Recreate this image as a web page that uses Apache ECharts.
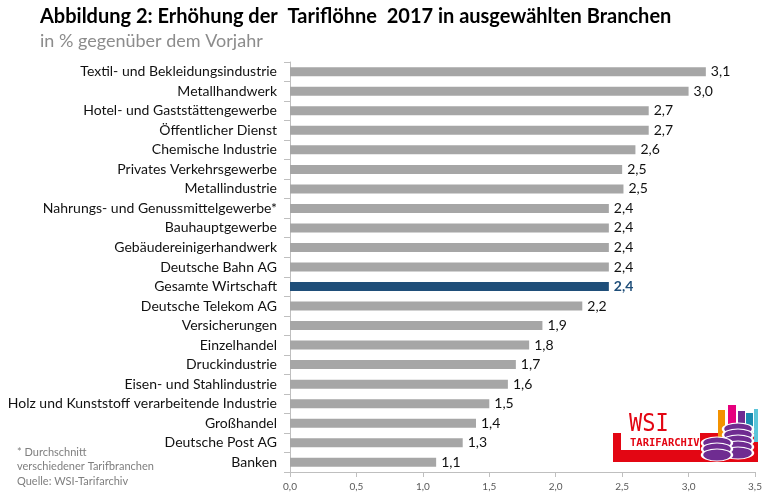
<!DOCTYPE html>
<html><head><meta charset="utf-8">
<script src="https://cdn.jsdelivr.net/npm/echarts@6/dist/echarts.min.js"></script>
<style>html,body{margin:0;padding:0;background:#fff}#c{width:778px;height:497px}</style>
</head><body><div id="c"></div>
<script>
const categories = ["Textil- und Bekleidungsindustrie","Metallhandwerk","Hotel- und Gaststättengewerbe","Öffentlicher Dienst","Chemische Industrie","Privates Verkehrsgewerbe","Metallindustrie","Nahrungs- und Genussmittelgewerbe*","Bauhauptgewerbe","Gebäudereinigerhandwerk","Deutsche Bahn AG","Gesamte Wirtschaft","Deutsche Telekom AG","Versicherungen","Einzelhandel","Druckindustrie","Eisen- und Stahlindustrie","Holz und Kunststoff verarbeitende Industrie","Großhandel","Deutsche Post AG","Banken"];
const values = [3.13,3.0,2.7,2.7,2.6,2.5,2.51,2.4,2.4,2.4,2.4,2.4,2.2,1.9,1.8,1.7,1.64,1.5,1.4,1.3,1.1];
const highlight = "Gesamte Wirtschaft";
const xTicks = [0,0.5,1,1.5,2,2.5,3,3.5];

const F = 'Lato, "Noto Sans", sans-serif';
const chart = echarts.init(document.getElementById('c'), null, {renderer:'canvas'});
const fmt = v => v.toFixed(1).replace('.', ',');
chart.setOption({
  animation:false,
  title:[{
    text:'Abbildung 2: Erhöhung der  Tariflöhne  2017 in ausgewählten Branchen',
    left:40, top:7, padding:0,
    textStyle:{fontFamily:F,fontSize:20,fontWeight:'bold',color:'#000'}
  },{
    text:'in % gegenüber dem Vorjahr',
    left:40, top:32, padding:0,
    textStyle:{fontFamily:F,fontSize:18,fontWeight:'normal',color:'#8c8c8c'}
  }],
  grid:{left:290,right:23,top:62,bottom:25,containLabel:false},
  xAxis:{type:'value',min:xTicks[0],max:xTicks[xTicks.length-1],interval:0.5,
    axisLine:{show:true,lineStyle:{color:'#bfbfbf'}},
    axisTick:{show:true,length:5,lineStyle:{color:'#bfbfbf'}},
    splitLine:{show:false},
    axisLabel:{fontFamily:F,fontSize:10,color:'#595959',margin:10,formatter:v=>fmt(v)}
  },
  yAxis:{type:'category',data:categories,inverse:true,
    axisLine:{show:true,lineStyle:{color:'#bfbfbf'}},
    axisTick:{show:true,length:6,lineStyle:{color:'#bfbfbf'}},
    axisLabel:{fontFamily:F,fontSize:14,color:'#111',margin:13}
  },
  series:[{type:'bar',barWidth:9,
    data:values.map((v,i)=>({value:v,
      itemStyle:{color: categories[i]===highlight ? '#1f4e79' : '#a6a6a6'},
      label: categories[i]===highlight ? {color:'#1f4e79',fontWeight:'bold'} : undefined})),
    label:{show:true,position:'right',distance:5,fontFamily:F,fontSize:14,color:'#111',
      formatter:p=>fmt(p.value)}
  }],
  graphic:[
    {type:'text',left:17,top:445,style:{text:'* Durchschnitt\nverschiedener Tarifbranchen\nQuelle: WSI-Tarifarchiv',fontFamily:F,fontSize:11,lineHeight:14.5,fill:'#7f7f7f'}},
    {type:'group',children:[
      {type:'rect',shape:{x:613,y:433,width:8,height:29},style:{fill:'#e30613'}},
      {type:'rect',shape:{x:613,y:450,width:145,height:12},style:{fill:'#e30613'}},
      {type:'rect',shape:{x:700,y:433,width:58,height:29},style:{fill:'#e30613'}},
      {type:'text',x:629,y:413,scaleY:1.1,style:{text:'WSI',fontFamily:'"DejaVu Sans Mono", monospace',fontSize:22,fill:'#e30613'}},
      {type:'text',x:630,y:438,style:{text:'TARIFARCHIV',fontFamily:'"DejaVu Sans Mono", monospace',fontSize:10.5,fontWeight:'bold',fill:'#e30613'}},
      {type:'rect',shape:{x:718,y:410,width:7,height:32},style:{fill:'#f39200'}},
      {type:'rect',shape:{x:728,y:405,width:8,height:37},style:{fill:'#e6007e'}},
      {type:'rect',shape:{x:738,y:411,width:7,height:31},style:{fill:'#6f2c91'}},
      {type:'rect',shape:{x:746,y:413,width:7,height:29},style:{fill:'#1a8bb0'}},
      {type:'rect',shape:{x:754,y:409,width:4,height:33},style:{fill:'#5bc5d9'}},
      ...[429,435,441,447,453].map(y=>({type:'circle',x:738,y:y,scaleY:0.4,shape:{cx:0,cy:0,r:15},style:{fill:'#6f2c91',stroke:'#fff',lineWidth:2.5}})),
      ...[443,449,455].map(y=>({type:'circle',x:717,y:y,scaleY:0.4,shape:{cx:0,cy:0,r:15},style:{fill:'#6f2c91',stroke:'#fff',lineWidth:2.5}}))
    ]}
  ]
});
</script></body></html>
